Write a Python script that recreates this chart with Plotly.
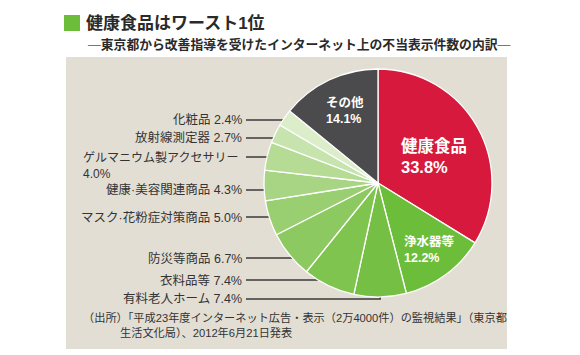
import math
import plotly.graph_objects as go

# ---------------- data ----------------
categories = ["健康食品", "浄水器等", "有料老人ホーム", "衣料品等", "防災等商品",
              "マスク·花粉症対策商品", "健康·美容関連商品", "ゲルマニウム製アクセサリー",
              "放射線測定器", "化粧品", "その他"]
values = [33.8, 12.2, 7.4, 7.4, 6.7, 5.0, 4.3, 4.0, 2.7, 2.4, 14.1]
slice_colors = ["#d6193c", "#6cbd3a", "#75c044", "#7fc44f", "#8cc960", "#9acf71",
                "#a7d583", "#b5db95", "#c7e4ae", "#dbedc9", "#4b4a4c"]

title_text = "健康食品はワースト1位"
subtitle_text = "東京都から改善指導を受けたインターネット上の不当表示件数の内訳"
source_line1 = "（出所）「平成23年度インターネット広告・表示（2万4000件）の監視結果」（東京都"
source_line2 = "生活文化局）、2012年6月21日発表"

# ---------------- layout helpers ----------------
W, H = 580, 355
FONT = "Liberation Sans, Noto Sans CJK JP, sans-serif"
CX, CY, R = 378, 183, 114          # pie centre / radius in px


def px(x):
    return x / W


def py(y):
    return 1 - y / H


fig = go.Figure()
fig.add_trace(go.Pie(
    labels=categories, values=values, sort=False, direction="clockwise",
    rotation=0, marker=dict(colors=slice_colors, line=dict(color="#ffffff", width=1.3)),
    textinfo="none", hoverinfo="label+percent", showlegend=False,
    domain=dict(x=[px(CX - R), px(CX + R)], y=[py(CY + R), py(CY - R)]),
))

shapes = []
annotations = []

# beige panel
shapes.append(dict(type="rect", xref="paper", yref="paper", layer="below",
                   x0=px(66), x1=px(507), y0=py(349), y1=py(57),
                   fillcolor="#e3ded3", line=dict(width=0)))
# green title marker
shapes.append(dict(type="rect", xref="paper", yref="paper",
                   x0=px(64), x1=px(80), y0=py(31), y1=py(15),
                   fillcolor="#6cbd3a", line=dict(width=0)))

annotations.append(dict(text="<b>" + title_text + "</b>", x=px(84), y=py(23),
                        xref="paper", yref="paper", xanchor="left", yanchor="middle",
                        showarrow=False, font=dict(family=FONT, size=17, color="#2a2a2a")))
annotations.append(dict(text="<span style='color:#777'>—</span><b>" + subtitle_text +
                        "</b><span style='color:#777'>—</span>",
                        x=px(86), y=py(44), xref="paper", yref="paper",
                        xanchor="left", yanchor="middle", showarrow=False,
                        font=dict(family=FONT, size=12.8, color="#2a2a2a")))

# outside labels with leader lines (for the small green categories)
label_y = {2: 299, 3: 280, 4: 258, 5: 217, 6: 190, 7: 157, 8: 138, 9: 120}
total = sum(values)
cum = 0.0
starts = []
for v in values:
    starts.append(cum)
    cum += v

for i, ly in label_y.items():
    name = categories[i]
    pct = f"{values[i]:.1f}%"
    if i == 7:
        txt = name + " <br>" + pct
        annotations.append(dict(text=txt, x=px(244), y=py(ly - 8), xref="paper", yref="paper",
                                xanchor="right", yanchor="top", align="left", showarrow=False,
                                font=dict(family=FONT, size=12, color="#333333")))
    else:
        annotations.append(dict(text=name + " " + pct, x=px(244), y=py(ly), xref="paper",
                                yref="paper", xanchor="right", yanchor="middle",
                                showarrow=False,
                                font=dict(family=FONT, size=12.5, color="#333333")))
    dy = ly - CY
    if abs(dy) < R:
        xe = CX - math.sqrt(R * R - dy * dy)
        shapes.append(dict(type="line", xref="paper", yref="paper", layer="below",
                           x0=px(246), x1=px(xe + 2), y0=py(ly), y1=py(ly),
                           line=dict(color="#3a3a3a", width=1.5)))
    else:
        mid = (starts[i] + values[i] / 2) / total * 2 * math.pi
        xm = CX + R * math.sin(mid)
        ym = CY - R * math.cos(mid)
        shapes.append(dict(type="path", xref="paper", yref="paper", layer="below",
                           path=f"M {px(246)},{py(ly)} L {px(xm)},{py(ly)} L {px(xm)},{py(ym - 2)}",
                           line=dict(color="#3a3a3a", width=1.5)))

# labels inside the big slices
annotations.append(dict(text="<b>" + categories[0] + "<br>" + f"{values[0]:.1f}%" + "</b>",
                        x=px(399), y=py(156), xref="paper", yref="paper", xanchor="left",
                        yanchor="middle", align="left", showarrow=False,
                        font=dict(family=FONT, size=16.5, color="#ffffff")))
annotations.append(dict(text="<b>" + categories[1] + "<br>" + f"{values[1]:.1f}%" + "</b>",
                        x=px(402), y=py(250), xref="paper", yref="paper", xanchor="left",
                        yanchor="middle", align="left", showarrow=False,
                        font=dict(family=FONT, size=12.5, color="#ffffff")))
annotations.append(dict(text="<b>" + categories[10] + "<br>" + f"{values[10]:.1f}%" + "</b>",
                        x=px(324), y=py(110), xref="paper", yref="paper", xanchor="left",
                        yanchor="middle", align="left", showarrow=False,
                        font=dict(family=FONT, size=12.5, color="#ffffff")))

# source
annotations.append(dict(text=source_line1, x=px(81), y=py(317), xref="paper", yref="paper",
                        xanchor="left", yanchor="middle", showarrow=False,
                        font=dict(family=FONT, size=11.2, color="#333333")))
annotations.append(dict(text=source_line2, x=px(118), y=py(332), xref="paper", yref="paper",
                        xanchor="left", yanchor="middle", showarrow=False,
                        font=dict(family=FONT, size=11.2, color="#333333")))

fig.update_layout(width=W, height=H, margin=dict(l=0, r=0, t=0, b=0),
                  paper_bgcolor="#ffffff", plot_bgcolor="#ffffff",
                  shapes=shapes, annotations=annotations, showlegend=False)

fig.write_html("out.html", config={"displayModeBar": False},
               post_script="document.body.style.margin='0';document.body.style.overflow='hidden';")
